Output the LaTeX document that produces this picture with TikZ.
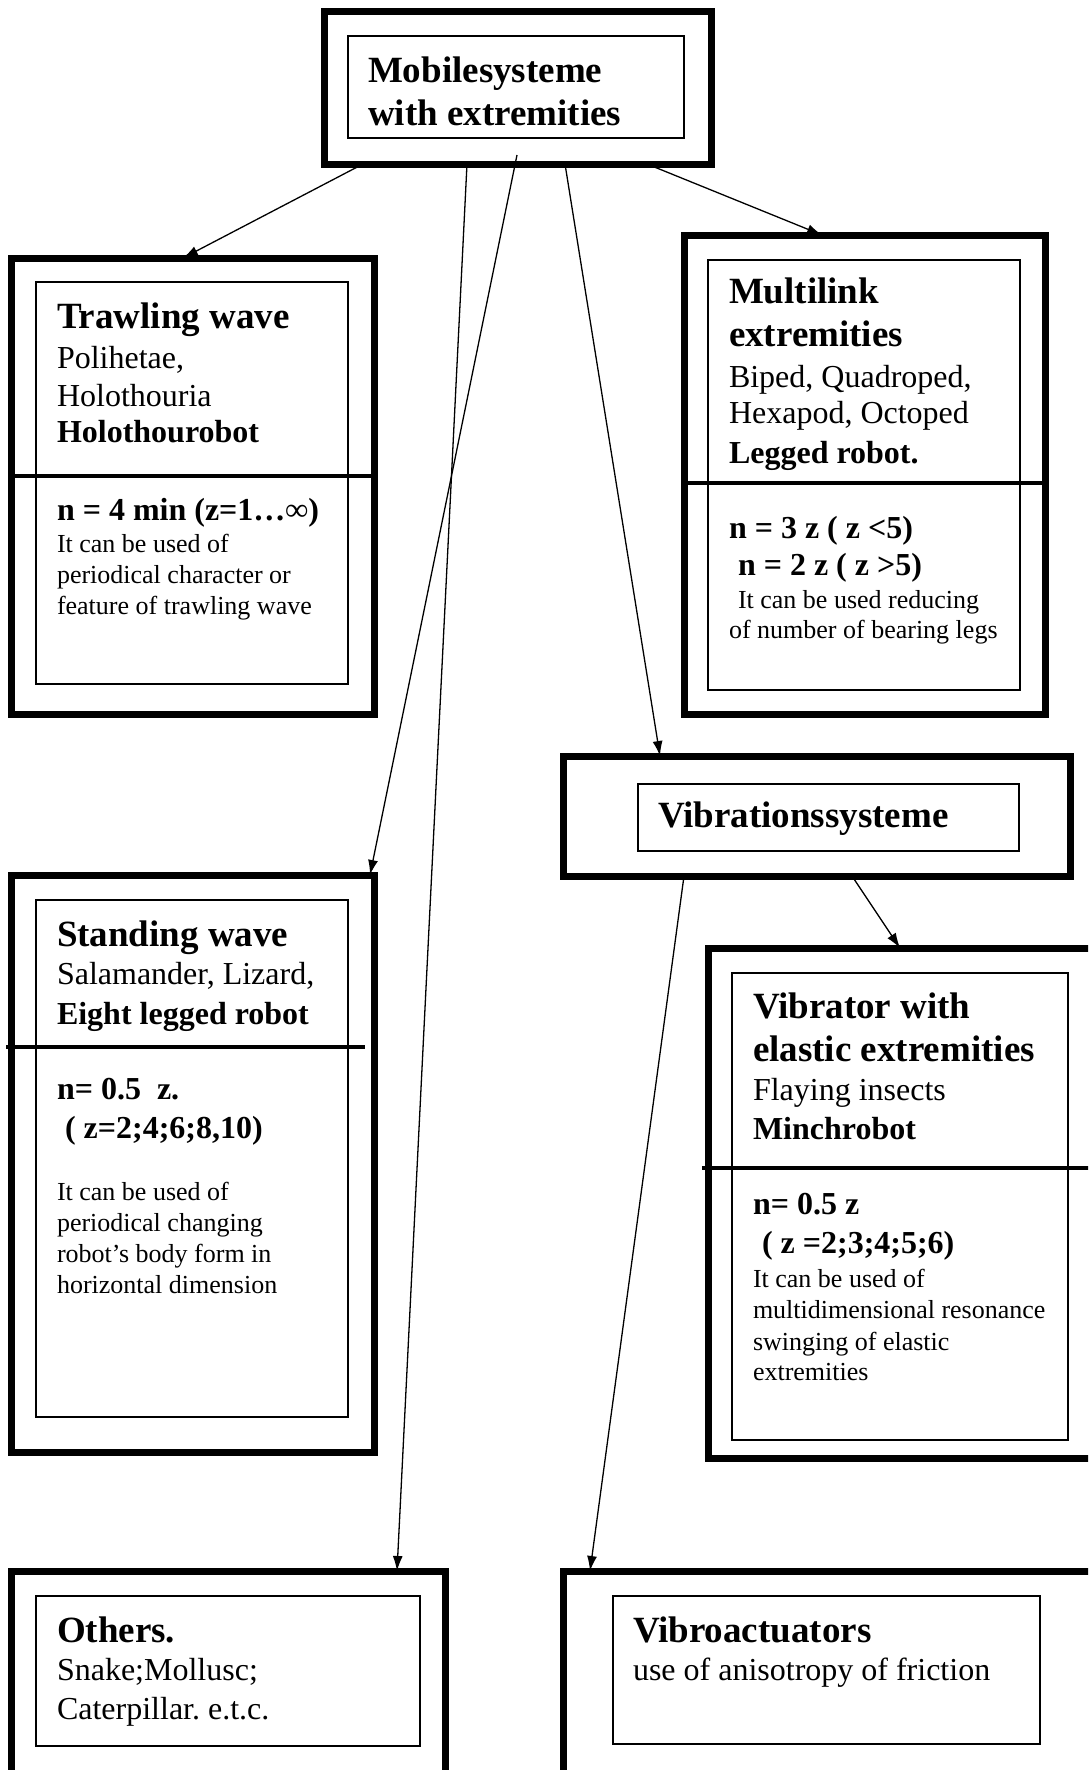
\documentclass[tikz,border=0pt]{standalone}
\usepackage{fontspec}
\setmainfont{Liberation Serif}
\usetikzlibrary{arrows.meta}
\frenchspacing

% one line of text, #1 = distance from the baseline above
\newcommand{\ttl}[2]{{\fontsize{37}{#1}\selectfont\spaceskip=0pt\xspaceskip=0pt\bfseries #2\par}}
\newcommand{\txt}[2]{{\fontsize{32}{#1}\selectfont\spaceskip=0pt\xspaceskip=0pt #2\par}}
\newcommand{\sml}[2]{{\fontsize{26}{#1}\selectfont\spaceskip=0pt\xspaceskip=0pt #2\par}}

\begin{document}
\begin{tikzpicture}[x=1pt,y=-1pt,
		outer/.style={draw,line width=7pt,inner sep=0pt,outer sep=0pt},
		inner/.style={draw,line width=1.3pt,inner sep=0pt,outer sep=0pt},
		sepline/.style={line width=4.5pt},
		txtblock/.style={anchor=base west,inner sep=0pt,outer sep=0pt,text width=#1},
		arr/.style={-{Latex[length=15pt,width=10pt]},line width=1.3pt}]
		\useasboundingbox (0,0) rectangle (1088,1770);
		\clip (0,0) rectangle (1088,1770);

		% boxes
		\node[outer,minimum width=387pt,minimum height=153pt]	(mob)		at (517.5,87.5)	{};
		\node[inner,minimum width=336pt,minimum height=102pt]	(mobin)		at (516,87)		{};
		\node[outer,minimum width=363pt,minimum height=456pt]	(trawl)		at (192.5,486)	{};
		\node[inner,minimum width=312pt,minimum height=402pt]	(trawlin)	at (192,483)	{};
		\node[outer,minimum width=361pt,minimum height=479pt]	(multi)		at (864.5,474.5)	{};
		\node[inner,minimum width=312pt,minimum height=430pt]	(multiin)	at (864,475)	{};
		\node[outer,minimum width=507pt,minimum height=120pt]	(vib)		at (816.5,816)	{};
		\node[inner,minimum width=381pt,minimum height=67pt]	(vibin)		at (828.5,817.5)	{};
		\node[outer,minimum width=363pt,minimum height=577pt]	(stand)		at (192.5,1163.5)	{};
		\node[inner,minimum width=312pt,minimum height=517pt]	(standin)	at (192,1158.5)	{};
		\node[outer,minimum width=402pt,minimum height=510pt]	(vibr)		at (909,1203)	{};
		\node[inner,minimum width=336pt,minimum height=467pt]	(vibrin)	at (900,1206.5)	{};
		\node[outer,minimum width=434pt,minimum height=229pt]	(oth)		at (228,1685.5)	{};
		\node[inner,minimum width=384pt,minimum height=150pt]	(othin)		at (228,1671)	{};
		\node[outer,minimum width=547pt,minimum height=229pt]	(act)		at (836.5,1685.5)	{};
		\node[inner,minimum width=427pt,minimum height=148pt]	(actin)		at (826.5,1670)	{};

		% separators
		\draw[sepline] ([yshift=10pt]trawl.west) -- ([yshift=10pt]trawl.east);
		\draw[sepline] ([yshift=-8.5pt]multi.west) -- ([yshift=-8.5pt]multi.east);
		\draw[sepline] ([xshift=-5pt,yshift=116.5pt]stand.west) -- ([xshift=-9pt,yshift=116.5pt]stand.east);
		\draw[sepline] ([xshift=-6pt,yshift=35pt]vibr.west) -- ([yshift=35pt]vibr.east);

		% texts
		\node[txtblock=320pt] (mobtxt) at (368,82) {\ttl{43}{Mobilesysteme}\ttl{43}{with extremities}};
		\node[txtblock=300pt] (trawltop) at (57,328) {\ttl{40}{Trawling wave}\txt{40}{Polihetae,}\txt{38}{Holothouria}\txt{36}{\bfseries Holothourobot}};
		\node[txtblock=300pt] (trawlbot) at (57,520) {\txt{32}{\bfseries n = 4 min (z=1…∞)}\sml{32}{It can be used of}\sml{31}{periodical character or}\sml{31}{feature of trawling wave}};
		\node[txtblock=300pt] (multitop) at (729,303) {\ttl{43}{Multilink}\ttl{43}{extremities}\txt{41}{Biped, Quadroped,}\txt{36}{Hexapod, Octoped}\txt{40}{\bfseries Legged robot.}};
		\node[txtblock=300pt] (multibot) at (729,538) {\txt{37}{\bfseries n = 3 z ( z <5)}\txt{37}{\hspace*{9pt}\bfseries n = 2 z ( z >5)}\sml{33}{\hspace*{9pt}It can be used reducing}\sml{30}{of number of bearing legs}};
		\node[txtblock=350pt] (vibtxt) at (658,827) {\ttl{40}{Vibrationssysteme}};
		\node[txtblock=300pt] (standtop) at (57,946) {\ttl{40}{Standing wave}\txt{38}{Salamander, Lizard,}\txt{40}{\bfseries Eight legged robot}};
		\node[txtblock=300pt] (standbot) at (57,1099) {\txt{39}{\bfseries n= 0.5\ \ z.}\txt{39}{\hspace*{8pt}\bfseries ( z=2;4;6;8,10)}\sml{62}{It can be used of}\sml{31}{periodical changing}\sml{31}{robot’s body form in}\sml{31}{horizontal dimension}};
		\node[txtblock=320pt] (vibrtop) at (753,1018) {\ttl{43}{Vibrator with}\ttl{43}{elastic extremities}\txt{39}{Flaying insects}\txt{39}{\bfseries Minchrobot}};
		\node[txtblock=320pt] (vibrbot) at (753,1214) {\txt{39}{\bfseries n= 0.5 z}\txt{39}{\hspace*{9pt}\bfseries ( z =2;3;4;5;6)}\sml{34}{It can be used of}\sml{31}{multidimensional resonance}\sml{32}{swinging of elastic}\sml{30}{extremities}};
		\node[txtblock=360pt] (othtxt) at (57,1642) {\ttl{40}{Others.}\txt{38}{Snake;Mollusc;}\txt{39}{Caterpillar. e.t.c.}};
		\node[txtblock=400pt] (acttxt) at (633,1642) {\ttl{40}{Vibroactuators}\txt{38}{use of anisotropy of friction}};

		% arrows
		\draw[arr] ([xshift=-154.5pt]mob.south) -- ([xshift=-9.5pt]trawl.north);
		\draw[arr] ([xshift=129.5pt]mob.south) -- ([xshift=-42.5pt]multi.north);
		\draw[arr] ([xshift=-0.5pt,yshift=9pt]mob.south) -- ([xshift=-4pt]stand.north east);
		\draw[arr] ([xshift=-50.5pt]mob.south) -- ([xshift=169pt]oth.north);
		\draw[arr] ([xshift=47.5pt]mob.south) -- ([xshift=-156.5pt]vib.north);
		\draw[arr] ([xshift=-132.5pt]vib.south) -- ([xshift=27pt]act.north west);
		\draw[arr] ([xshift=35.5pt]vib.south) -- ([xshift=-9pt]vibr.north);
	\end{tikzpicture}
\end{document}
